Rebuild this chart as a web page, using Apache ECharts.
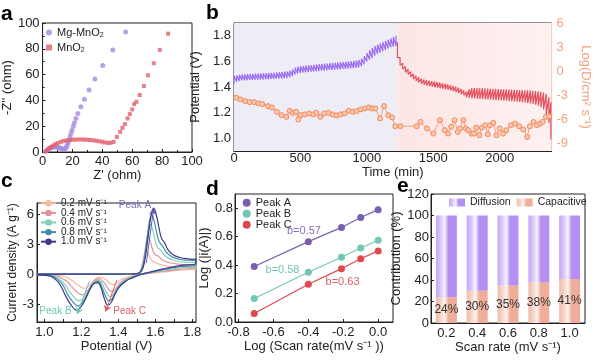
<!DOCTYPE html>
<html><head><meta charset="utf-8">
<script src="https://cdn.jsdelivr.net/npm/echarts@6/dist/echarts.min.js"></script>
<style>html,body{margin:0;padding:0;background:#fff}#chart{width:600px;height:361px}</style>
</head><body><div id="chart"></div>
<script>
// ---------- Panel a: Nyquist ----------
const mgZre = [2,3,4,5,6,7,8,9,10,11,12,13,14,15,15.8,16.4,17.1,17.7,18.4,19,19.7,20.6,21.3,22.3,23.6,25.6,28,31.1,35,40.3,47,55.6];
const mgZim = [0.3,1.4,2.3,3,3.5,3.8,3.9,3.9,3.7,3.4,3,2.6,2.3,2.2,3.4,5,7,9.1,11.7,14.3,16.9,20,22.6,26,29.9,35,40.8,48,56.6,67,79,93];
const mnZre = [2.5,3.5,4.5,5.5,7,8.5,10,12,14,16,18,20,22,24,26,28,30,32,34,36,38,40,42,44,45.5,47.5,49.7,51.9,53.4,55.1,56.9,58.4,60,61.3,62.8,65,67.8,70.5,74.4,78.5,84];
const mnZim = [0.8,1.8,2.8,3.7,4.9,6,6.9,7.8,8.5,9,9.3,9.5,9.6,9.7,9.7,9.6,9.5,9.3,9,8.7,8.3,7.9,7.4,7.0,7.2,7.8,11.7,15.6,18.7,21.6,26,29.4,33,37.1,38.9,44.2,51.2,59.5,68.8,79.2,91.7];

// ---------- Panel b: GITT ----------
const chgTime = [0,20,40,60,80,100,120,140,160,180,200,220,240,260,280,300,320,340,360,380,400,420,440,460,480,500,520,540,560,580,600,620,640,660,680,700,720,740,760,780,800,820,840,860,880,900,920,940,960,980,1000,1020,1040,1060,1080,1100,1120,1140,1160,1180,1200,1220];
const chgHigh = [1.49,1.49,1.495,1.497,1.498,1.5,1.501,1.502,1.503,1.505,1.506,1.507,1.508,1.509,1.51,1.512,1.513,1.515,1.517,1.519,1.522,1.527,1.537,1.55,1.558,1.562,1.565,1.567,1.569,1.571,1.573,1.575,1.577,1.579,1.581,1.583,1.585,1.587,1.589,1.591,1.593,1.595,1.597,1.599,1.601,1.604,1.607,1.612,1.62,1.64,1.665,1.688,1.705,1.72,1.73,1.74,1.75,1.76,1.77,1.78,1.79,1.80];
const chgLow = [1.42,1.44,1.447,1.45,1.452,1.453,1.454,1.455,1.456,1.457,1.458,1.459,1.46,1.461,1.462,1.463,1.464,1.466,1.467,1.469,1.471,1.476,1.485,1.497,1.505,1.51,1.513,1.515,1.517,1.519,1.521,1.522,1.524,1.526,1.528,1.53,1.532,1.533,1.535,1.537,1.539,1.54,1.542,1.544,1.546,1.548,1.551,1.555,1.562,1.578,1.6,1.615,1.627,1.645,1.66,1.67,1.68,1.69,1.70,1.71,1.715,1.72];
const dchTime = [1230,1250,1270,1290,1310,1330,1350,1370,1390,1410,1430,1450,1470,1490,1510,1530,1550,1570,1590,1610,1630,1650,1670,1690,1710,1730,1750,1770,1790,1810,1830,1850,1870,1890,1910,1930,1950,1970,1990,2010,2030,2050,2070,2090,2110,2130,2150,2170,2190,2210,2230,2250,2270,2290,2310,2330,2350,2370,2385];
const dchHigh = [1.75,1.63,1.585,1.56,1.54,1.52,1.503,1.488,1.476,1.466,1.458,1.452,1.448,1.445,1.442,1.438,1.434,1.43,1.426,1.421,1.415,1.408,1.401,1.394,1.385,1.374,1.362,1.38,1.39,1.392,1.392,1.391,1.39,1.389,1.388,1.387,1.386,1.385,1.384,1.383,1.382,1.381,1.38,1.379,1.378,1.377,1.376,1.375,1.374,1.373,1.372,1.37,1.368,1.366,1.362,1.356,1.345,1.32,1.28];
const dchLow = [1.63,1.57,1.54,1.515,1.5,1.48,1.462,1.448,1.436,1.425,1.418,1.412,1.407,1.403,1.399,1.395,1.391,1.387,1.383,1.378,1.373,1.367,1.36,1.353,1.345,1.335,1.32,1.315,1.313,1.311,1.309,1.307,1.306,1.304,1.303,1.301,1.3,1.298,1.297,1.296,1.294,1.293,1.291,1.289,1.287,1.285,1.283,1.281,1.278,1.275,1.272,1.268,1.262,1.254,1.242,1.225,1.19,1.12,0.99];
const dTime = [17,49,85,119,151,183,212,256,285,322,358,395,419,443,467,484,504,533,565,596,620,650,679,711,742,772,801,833,864,894,923,955,986,1015,1040,1063,1100,1129,1161,1190,1214,1253,1375,1404,1453,1501,1550,1587,1611,1635,1660,1684,1701,1726,1745,1764,1788,1806,1823,1847,1866,1891,1910,1927,1952,1976,2000,2025,2049,2085,2115,2146,2178,2207,2226,2255,2280,2304,2324,2348,2372];
const dLogD = [-3.34,-3.55,-3.76,-3.89,-3.89,-4.05,-4.14,-4.39,-4.56,-5.1,-5.52,-5.73,-4.98,-5.23,-5.1,-6.06,-5.52,-5.43,-5.31,-5.43,-5.23,-5.73,-5.31,-5.23,-5.43,-5.56,-5.43,-5.31,-4.98,-5.1,-5.0,-4.8,-4.68,-4.56,-4.68,-4.68,-5.93,-4.39,-5.52,-5.8,-6.9,-6.9,-6.9,-6.36,-7.19,-7.82,-6.15,-7.4,-7.82,-6.98,-6.15,-7.61,-7.19,-6.15,-7.19,-7.4,-7.82,-7.82,-7.07,-8.03,-7.07,-6.78,-7.9,-6.78,-6.48,-8.03,-7.19,-7.82,-7.4,-6.78,-6.57,-6.9,-7.32,-8.24,-6.9,-6.36,-6.78,-6.57,-6.36,-5.73,-5.65];
const timeTicks = [0,500,1000,1500,2000];

// ---------- Panel c: CV curves [potential V, current A/g] ----------
const cvNames = ['0.2 mV s⁻¹','0.4 mV s⁻¹','0.6 mV s⁻¹','0.8 mV s⁻¹','1.0 mV s⁻¹'];
const cv02 = [[0.96,0],[1.3,0],[1.45,0.02],[1.5,0.04],[1.512,0.15],[1.524,0.6],[1.534,1.3],[1.544,2.1],[1.551,2.45],[1.56,2.2],[1.572,1.65],[1.585,1.3],[1.605,1.15],[1.63,0.95],[1.67,0.8],[1.73,0.7],[1.78,0.68],[1.82,0.67],
  [1.82,0.54],[1.73,0.4],[1.64,0.22],[1.55,0.04],[1.515,-0.03],[1.48,-0.14],[1.45,-0.28],[1.42,-0.48],[1.4,-0.78],[1.385,-0.98],[1.374,-1.07],[1.355,-0.9],[1.33,-0.5],[1.305,-0.32],[1.289,-0.34],[1.27,-0.6],[1.248,-1.05],[1.228,-1.35],[1.217,-1.41],[1.195,-1.25],[1.165,-0.85],[1.135,-0.45],[1.1,-0.18],[1.05,-0.05],[0.96,-0.03]];
const cv04 = [[0.96,0],[1.3,0],[1.45,0.02],[1.5,0.05],[1.515,0.2],[1.528,0.8],[1.54,1.9],[1.551,3.2],[1.56,3.8],[1.571,3.4],[1.583,2.6],[1.597,2.0],[1.617,1.8],[1.64,1.4],[1.68,1.15],[1.73,1.0],[1.78,0.95],[1.82,0.94],
  [1.82,0.67],[1.73,0.5],[1.64,0.3],[1.55,0.06],[1.515,-0.04],[1.48,-0.2],[1.45,-0.4],[1.42,-0.72],[1.395,-1.2],[1.378,-1.6],[1.365,-1.74],[1.345,-1.45],[1.32,-0.8],[1.295,-0.47],[1.282,-0.5],[1.26,-0.9],[1.235,-1.6],[1.215,-2.0],[1.204,-2.08],[1.18,-1.85],[1.15,-1.3],[1.12,-0.7],[1.085,-0.3],[1.04,-0.08],[0.96,-0.04]];
const cv06 = [[0.96,0],[1.3,0],[1.45,0.02],[1.5,0.05],[1.518,0.22],[1.533,1.0],[1.548,2.6],[1.562,4.3],[1.573,5.0],[1.585,4.5],[1.598,3.5],[1.612,2.7],[1.632,2.35],[1.655,1.8],[1.69,1.45],[1.73,1.25],[1.78,1.2],[1.82,1.15],
  [1.82,0.84],[1.73,0.62],[1.64,0.38],[1.55,0.08],[1.515,-0.05],[1.48,-0.25],[1.445,-0.5],[1.415,-0.9],[1.39,-1.5],[1.372,-2.05],[1.356,-2.25],[1.336,-1.85],[1.315,-1.05],[1.292,-0.6],[1.278,-0.65],[1.255,-1.15],[1.228,-2.0],[1.203,-2.55],[1.19,-2.68],[1.165,-2.4],[1.135,-1.7],[1.108,-0.95],[1.075,-0.4],[1.035,-0.12],[0.96,-0.05]];
const cv08 = [[0.96,0],[1.3,0],[1.45,0.02],[1.5,0.05],[1.52,0.25],[1.537,1.2],[1.553,3.2],[1.568,5.3],[1.58,6.0],[1.593,5.4],[1.607,4.2],[1.62,3.3],[1.64,2.8],[1.66,2.2],[1.69,1.75],[1.73,1.5],[1.78,1.4],[1.82,1.35],
  [1.82,0.95],[1.73,0.75],[1.64,0.45],[1.55,0.1],[1.515,-0.06],[1.48,-0.3],[1.445,-0.6],[1.41,-1.1],[1.385,-1.8],[1.367,-2.45],[1.349,-2.68],[1.33,-2.2],[1.31,-1.25],[1.29,-0.72],[1.275,-0.78],[1.25,-1.4],[1.222,-2.4],[1.195,-3.05],[1.181,-3.19],[1.155,-2.8],[1.125,-2.0],[1.1,-1.1],[1.07,-0.5],[1.03,-0.15],[0.96,-0.06]];
const cv10 = [[0.96,0],[1.3,0],[1.45,0.02],[1.5,0.05],[1.524,0.27],[1.542,1.28],[1.56,3.62],[1.578,5.97],[1.591,6.64],[1.605,5.97],[1.62,4.63],[1.633,3.62],[1.651,3.12],[1.669,2.45],[1.696,1.95],[1.732,1.68],[1.777,1.54],[1.82,1.5],
  [1.82,1.1],[1.732,0.87],[1.642,0.54],[1.551,0.13],[1.515,-0.07],[1.479,-0.34],[1.443,-0.67],[1.407,-1.24],[1.38,-2.08],[1.362,-2.82],[1.343,-3.1],[1.325,-2.5],[1.307,-1.4],[1.289,-0.85],[1.271,-0.9],[1.244,-1.6],[1.217,-2.7],[1.19,-3.45],[1.172,-3.6],[1.145,-3.1],[1.117,-2.25],[1.09,-1.24],[1.063,-0.57],[1.027,-0.17],[0.96,-0.07]];
const cvColors = ['#f4b9a0','#e88e95','#7fd0bb','#3f8faa','#3f3a8a'];

// ---------- Panel d ----------
const logScan = [-0.71,-0.4,-0.21,-0.1,0];
const peakA = [0.39,0.565,0.665,0.735,0.79];
const peakB = [0.165,0.35,0.455,0.52,0.575];
const peakC = [0.06,0.265,0.375,0.445,0.5];

// ---------- Panel e ----------
const rateCats = ['0.2','0.4','0.6','0.8','1.0'];
const capacitive = [24,30,35,38,41];
const diffusion = [76,70,65,62,59];

// ---------- build ----------
const zip = (a,b)=>a.map((v,i)=>[v,b[i]]);
const chgLine = []; chgTime.forEach((t,i)=>{chgLine.push([t,chgLow[i]],[t,chgHigh[i]]);});
const dchLine = []; dchTime.forEach((t,i)=>{dchLine.push([t,dchHigh[i]],[t,dchLow[i]]);});
const F = '"Liberation Sans", Arial, sans-serif';
const K = '#222';
function axis(o){
  const base = {type:'value', nameLocation:'middle', nameTextStyle:{fontSize:13,color:K,fontFamily:F},
    axisLine:{show:true,onZero:false,lineStyle:{color:K,width:1}},
    axisTick:{show:true,inside:true,length:3,lineStyle:{color:K}},
    axisLabel:{fontSize:13,color:K,margin:3,fontFamily:F},
    splitLine:{show:false}};
  for (const k in o){ if (base[k] && typeof base[k]==='object' && !Array.isArray(base[k])) base[k]=Object.assign({},base[k],o[k]); else base[k]=o[k]; }
  return base;
}
const f1 = v=>v.toFixed(1);
const grad = (c0,c1,c2,c3)=>new echarts.graphic.LinearGradient(0,0,1,0,[{offset:0,color:c0},{offset:0.22,color:c1},{offset:0.42,color:c2},{offset:0.6,color:c3},{offset:1,color:c3}]);
const ORG = '#f4a07c';

const option = {
  animation:false,
  textStyle:{fontFamily:F},
  grid:[
    {left:39,top:23,width:153,height:129,show:true,borderColor:K,borderWidth:1},
    {left:234,top:23,width:328,height:128,show:true,borderColor:K,borderWidth:1},
    {left:37,top:203,width:159,height:119,show:true,borderColor:K,borderWidth:1},
    {left:235,top:194,width:158,height:128,show:true,borderColor:K,borderWidth:1},
    {left:431,top:194,width:154,height:129,show:true,borderColor:K,borderWidth:1}
  ],
  xAxis:[
    axis({gridIndex:0,min:0,max:100,interval:20,name:"Z' (ohm)",nameGap:14,minorTick:{show:true,splitNumber:2,length:2}}),
    axis({gridIndex:1,min:0,max:2390,name:'Time (min)',nameGap:15,
      axisLabel:{margin:1,customValues:timeTicks,formatter:v=>String(v)},
      axisTick:{customValues:[0,250,500,750,1000,1250,1500,1750,2000,2250]}}),
    axis({gridIndex:2,min:0.96,max:1.82,name:'Potential (V)',nameGap:16,
      axisLabel:{customValues:[1.0,1.2,1.4,1.6,1.8],formatter:f1,margin:4},
      axisTick:{customValues:[1.0,1.1,1.2,1.3,1.4,1.5,1.6,1.7,1.8]}}),
    axis({gridIndex:3,min:-0.82,max:0.085,name:'Log (Scan rate(mV s⁻¹ ))',nameGap:16,
      axisLabel:{customValues:[-0.8,-0.6,-0.4,-0.2,0],formatter:f1,margin:4},
      axisTick:{customValues:[-0.8,-0.6,-0.4,-0.2,0]}}),
    axis({gridIndex:4,type:'category',data:rateCats,name:'Scan rate (mV s⁻¹)',nameGap:16,
      axisTick:{alignWithLabel:true},axisLabel:{margin:4}})
  ],
  yAxis:[
    axis({gridIndex:0,min:0,max:100,interval:20,name:"-Z'' (ohm)",nameGap:23,minorTick:{show:true,splitNumber:2,length:2}}),
    axis({gridIndex:1,min:0.9,max:1.9,name:'Potential (V)',nameGap:19,
      axisLabel:{customValues:[1.0,1.2,1.4,1.6,1.8],formatter:f1,margin:3},
      axisTick:{customValues:[1.0,1.2,1.4,1.6,1.8]}}),
    axis({gridIndex:1,position:'right',min:-10,max:6,name:'Log(D/cm² s⁻¹)',nameGap:20,nameRotate:-90,
      nameTextStyle:{color:ORG},axisLine:{lineStyle:{color:ORG}},
      axisLabel:{customValues:[-9,-6,-3,0,3,6],color:ORG,margin:5},
      axisTick:{customValues:[-9,-6,-3,0,3,6],lineStyle:{color:ORG}}}),
    axis({gridIndex:2,min:-4.8,max:7.15,name:'Current density (A g⁻¹)',nameGap:13,nameTextStyle:{fontSize:12},
      axisLabel:{customValues:[-3,0,3,6],margin:3},axisTick:{customValues:[-3,0,3,6]}}),
    axis({gridIndex:3,min:0,max:0.9,name:'Log (|i(A)|)',nameGap:17,
      axisLabel:{customValues:[0,0.2,0.4,0.6,0.8],formatter:f1,margin:2},
      axisTick:{customValues:[0,0.2,0.4,0.6,0.8]}}),
    axis({gridIndex:4,min:0,max:120,interval:20,name:'Contribution (%)',nameGap:19,axisLabel:{margin:2}})
  ],
  legend:[
    {data:['Mg-MnO2','MnO2'],left:46,top:27,padding:0,orient:'vertical',itemWidth:6,itemHeight:6,itemGap:3,
      formatter:n=>n.replace('O2','O{s|2}'),
      textStyle:{fontSize:11,color:K,rich:{s:{fontSize:7,padding:[6,0,0,0]}}}},
    {data:cvNames,left:40,top:198.3,padding:0,orient:'vertical',itemWidth:15,itemHeight:8,itemGap:-0.4,
      textStyle:{fontSize:10,color:K,lineHeight:10}},
    {data:['Peak A','Peak B','Peak C'],left:242.7,top:197.3,padding:0,orient:'vertical',icon:'circle',itemWidth:8,itemHeight:8,itemGap:0,
      textStyle:{fontSize:11,color:K,lineHeight:10}},
    {data:['Diffusion','Capacitive'],left:449,top:197,padding:0,width:170,itemWidth:16,itemHeight:8,itemGap:6,icon:'rect',
      textStyle:{fontSize:10.5,color:K}}
  ],
  graphic:[
    {type:'text',x:1,y:14,style:{text:'a',font:'bold 21px '+F,fill:'#000',verticalAlign:'middle',textVerticalAlign:'middle'}},
    {type:'text',x:206,y:13,style:{text:'b',font:'bold 21px '+F,fill:'#000',verticalAlign:'middle',textVerticalAlign:'middle'}},
    {type:'text',x:1,y:181,style:{text:'c',font:'bold 21px '+F,fill:'#000',verticalAlign:'middle',textVerticalAlign:'middle'}},
    {type:'text',x:206,y:189,style:{text:'d',font:'bold 21px '+F,fill:'#000',verticalAlign:'middle',textVerticalAlign:'middle'}},
    {type:'text',x:397,y:186,style:{text:'e',font:'bold 21px '+F,fill:'#000',verticalAlign:'middle',textVerticalAlign:'middle'}}
  ],
  series:[
    {name:'Mg-MnO2',type:'scatter',xAxisIndex:0,yAxisIndex:0,symbol:'circle',symbolSize:5,itemStyle:{color:'#a58be3'},data:zip(mgZre,mgZim)},
    {name:'MnO2',type:'scatter',xAxisIndex:0,yAxisIndex:0,symbol:'rect',symbolSize:4,itemStyle:{color:'#e2606c'},data:zip(mnZre,mnZim)},

    {name:'charge',type:'line',xAxisIndex:1,yAxisIndex:1,symbol:'none',lineStyle:{color:'#9d6cf2',width:1.2},data:chgLine,
      markArea:{silent:true,data:[
        [{xAxis:0,itemStyle:{color:'#eeedf6'}},{xAxis:1230}],
        [{xAxis:1230,itemStyle:{color:new echarts.graphic.LinearGradient(0,0,1,0,[{offset:0,color:'#fce6e5'},{offset:1,color:'#fdf1f0'}])}},{xAxis:2390}]
      ]}},
    {name:'discharge',type:'line',xAxisIndex:1,yAxisIndex:1,symbol:'none',lineStyle:{color:'#e4505e',width:1.2},data:dchLine},
    {name:'logD',type:'line',xAxisIndex:1,yAxisIndex:2,symbol:'circle',symbolSize:5,
      lineStyle:{color:ORG,width:1},itemStyle:{color:'#fbc8ae',borderColor:'#f0895e',borderWidth:1},data:zip(dTime,dLogD)},

    ...[cv02,cv04,cv06,cv08,cv10].map((d,i)=>({name:cvNames[i],type:'line',xAxisIndex:2,yAxisIndex:3,symbol:'none',smooth:0.45,
      lineStyle:{color:cvColors[i],width:1.2},itemStyle:{color:cvColors[i]},data:d})),
    {name:'cvNotes',type:'line',xAxisIndex:2,yAxisIndex:3,symbol:'none',data:[],
      markLine:{silent:true,symbol:['none','arrow'],symbolSize:6,label:{show:false},data:[
        [{coord:[1.551,1.1],lineStyle:{color:'#6b58b5',width:1,type:'solid'}},{coord:[1.591,6.6]}],
        [{coord:[1.244,-0.67],lineStyle:{color:'#6cc6b3',width:1,type:'solid'}},{coord:[1.177,-4.0]}],
        [{coord:[1.392,-0.57],lineStyle:{color:'#e05a64',width:1,type:'solid'}},{coord:[1.331,-3.75]}]
      ]},
      markPoint:{silent:true,symbol:'circle',symbolSize:0,data:[
        {coord:[1.49,6.95],label:{show:true,position:'inside',formatter:'Peak A',color:'#7a68b8',fontSize:10}},
        {coord:[1.06,-3.7],label:{show:true,position:'inside',formatter:'Peak B',color:'#6cc6b3',fontSize:10}},
        {coord:[1.461,-3.7],label:{show:true,position:'inside',formatter:'Peak C',color:'#e0606a',fontSize:10}}
      ]}},

    {name:'Peak A',type:'line',xAxisIndex:3,yAxisIndex:4,symbol:'circle',symbolSize:7,lineStyle:{color:'#7a5fae',width:1.2},itemStyle:{color:'#7a5fae'},data:zip(logScan,peakA),
      markPoint:{silent:true,symbol:'circle',symbolSize:0,data:[{coord:[-0.425,0.64],label:{show:true,position:'inside',formatter:'b=0.57',color:'#8a70c0',fontSize:11}}]}},
    {name:'Peak B',type:'line',xAxisIndex:3,yAxisIndex:4,symbol:'circle',symbolSize:7,lineStyle:{color:'#72c6b4',width:1.2},itemStyle:{color:'#72c6b4'},data:zip(logScan,peakB),
      markPoint:{silent:true,symbol:'circle',symbolSize:0,data:[{coord:[-0.548,0.363],label:{show:true,position:'inside',formatter:'b=0.58',color:'#72c6b4',fontSize:11}}]}},
    {name:'Peak C',type:'line',xAxisIndex:3,yAxisIndex:4,symbol:'circle',symbolSize:7,lineStyle:{color:'#e04850',width:1.2},itemStyle:{color:'#e04850'},data:zip(logScan,peakC),
      markPoint:{silent:true,symbol:'circle',symbolSize:0,data:[{coord:[-0.204,0.278],label:{show:true,position:'inside',formatter:'b=0.63',color:'#e06068',fontSize:11}}]}},

    {name:'Capacitive',type:'bar',xAxisIndex:4,yAxisIndex:5,stack:'c',barWidth:'68%',data:capacitive,
      itemStyle:{color:grad('#f0bba9','#f6d3c7','#fdf2ee','#eeae9a')},
      label:{show:true,position:'inside',formatter:'{c}%',fontSize:12,color:'#333'}},
    {name:'Diffusion',type:'bar',xAxisIndex:4,yAxisIndex:5,stack:'c',barWidth:'68%',data:diffusion,
      itemStyle:{color:grad('#c4a5f4','#d9c7f8','#f6f2fe','#b48ef1')}}
  ]
};
const chart = echarts.init(document.getElementById('chart'),null,{renderer:'canvas'});
chart.setOption(option);
</script></body></html>
